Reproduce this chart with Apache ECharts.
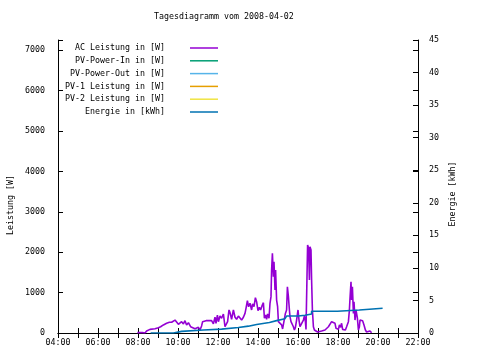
<!DOCTYPE html>
<html><head><meta charset="utf-8">
<script src="https://cdn.jsdelivr.net/npm/echarts@6/dist/echarts.min.js"></script>
<style>html,body{margin:0;padding:0;background:#fff}#c{width:480px;height:360px}</style>
</head><body><div id="c"></div>
<script>
const chartTitle = 'Tagesdiagramm vom 2008-04-02';
const seriesNames = ['AC Leistung in [W]', 'PV-Power-In in [W]', 'PV-Power-Out in [W]', 'PV-1 Leistung in [W]', 'PV-2 Leistung in [W]', 'Energie in [kWh]'];
const seriesColors = ['#9400d3', '#009e73', '#56b4e9', '#e69f00', '#f0e442', '#0072b2'];
const leftAxisName = 'Leistung [W]';
const rightAxisName = 'Energie [kWh]';

// time in decimal hours
const acTime = [
  7.97, 8.23, 8.35, 8.43, 8.52, 8.6, 8.85, 9.02, 9.13, 9.27,
  9.43, 9.57, 9.68, 9.73, 9.85, 9.93, 10.02, 10.07, 10.1, 10.18,
  10.27, 10.35, 10.43, 10.52, 10.63, 10.73, 10.85, 10.93, 11.02, 11.1,
  11.18, 11.23, 11.3, 11.4, 11.47, 11.57, 11.68, 11.77, 11.85, 11.9,
  11.97, 12.02, 12.1, 12.18, 12.27, 12.35, 12.43, 12.48, 12.55, 12.6,
  12.68, 12.77, 12.85, 12.93, 13.02, 13.1, 13.18, 13.27, 13.35, 13.4,
  13.47, 13.53, 13.6, 13.68, 13.73, 13.8, 13.87, 13.93, 14.0, 14.07,
  14.13, 14.2, 14.27, 14.32, 14.38, 14.43, 14.48, 14.55, 14.6, 14.65,
  14.68, 14.72, 14.77, 14.8, 14.85, 14.88, 14.93, 14.98, 15.02, 15.1,
  15.18, 15.23, 15.3, 15.37, 15.43, 15.47, 15.52, 15.57, 15.6, 15.65,
  15.7, 15.77, 15.82, 15.87, 15.93, 16.0, 16.05, 16.1, 16.15, 16.2,
  16.27, 16.32, 16.37, 16.4, 16.45, 16.48, 16.53, 16.57, 16.6, 16.65,
  16.68, 16.72, 16.77, 16.82, 16.9, 16.98, 17.07, 17.18, 17.27, 17.35,
  17.43, 17.52, 17.6, 17.68, 17.77, 17.85, 17.9, 17.97, 18.02, 18.07,
  18.13, 18.18, 18.23, 18.3, 18.37, 18.43, 18.52, 18.57, 18.6, 18.65,
  18.68, 18.72, 18.77, 18.8, 18.85, 18.9, 18.97, 19.02, 19.07, 19.1,
  19.17, 19.23, 19.3, 19.37, 19.43, 19.52, 19.6, 19.68
];
const acPower = [
  10, 10, 0, 50, 75, 90, 105, 130, 155, 200,
  240, 265, 265, 305, 320, 305, 215, 175, 240, 280,
  225, 305, 200, 255, 155, 155, 105, 90, 140, 75,
  175, 280, 240, 305, 345, 305, 305, 225, 390, 240,
  445, 280, 420, 365, 470, 155, 175, 280, 570, 505,
  340, 570, 390, 340, 420, 405, 320, 390, 485, 610,
  800, 650, 735, 570, 720, 650, 875, 775, 555, 635,
  570, 670, 750, 365, 445, 340, 470, 365, 735, 900,
  1560, 1970, 1395, 1765, 1065, 1560, 815, 650, 280, 305,
  200, 100, 90, 485, 570, 1145, 900, 570, 405, 280,
  305, 155, 75, 140, 320, 570, 320, 155, 200, 115,
  320, 420, 280, 90, 75, 2180, 2095, 1310, 2135, 2055,
  1310, 570, 155, 75, 90, 25, 25, 50, 75, 75,
  100, 155, 200, 280, 320, 240, 115, 155, 90, 200,
  140, 240, 90, 50, 75, 155, 280, 570, 860, 1270,
  815, 1145, 485, 775, 320, 570, 365, 75, 155, 320,
  340, 305, 200, 75, 25, 25, 50, 5
];
const energyTime = [8.63, 9.77, 10.18, 11.27, 12.18, 13.02, 13.52, 13.93, 14.57, 14.93, 15.35, 15.43, 16.02, 16.35, 16.68, 17.97, 19.07, 20.23];
const energyKWh = [0, 0.25, 0.45, 0.6, 0.85, 1.05, 1.3, 1.6, 1.9, 2.2, 2.4, 2.6, 2.72, 2.92, 3.33, 3.53, 3.79, 3.79];
const pvPowerIn = [];
const pvPowerOut = [];
const pv1Power = [];
const pv2Power = [];

const xMinHour = 4, xMaxHour = 22;
const leftMax = 7250, leftStep = 1000;
const rightMax = 45, rightStep = 5;

const FONT = '"DejaVu Sans Mono", monospace';
const FS = 8.3;
const zip = (a, b) => a.map((v, i) => [v, b[i]]);
const hourLabel = v => (v % 2 === 0 ? String(v).padStart(2, '0') + ':00' : '');

const chart = echarts.init(document.getElementById('c'), null, {renderer: 'canvas'});
const tickStyle = {inside: true, length: 5, lineStyle: {color: '#000', width: 1}};
const lineAxis = {show: true, lineStyle: {color: '#000', width: 1}};
const labelStyle = {color: '#000', fontFamily: FONT, fontSize: FS};

const option = {
  animation: false,
  backgroundColor: '#fff',
  title: {text: chartTitle, left: 154, top: 13, padding: 0,
    textStyle: {fontFamily: FONT, fontSize: FS, fontWeight: 'normal', color: '#000'}},
  legend: {
    orient: 'vertical', align: 'right', right: 262, top: 43, padding: 0,
    itemGap: 2.8, itemWidth: 28, itemHeight: 1.5, icon: 'rect',
    data: seriesNames,
    textStyle: {fontFamily: FONT, fontSize: FS, color: '#000', lineHeight: 10, padding: [0, 20, 0, 0]}
  },
  grid: {left: 58, right: 62, top: 40, bottom: 27, containLabel: false},
  xAxis: [
    {type: 'value', min: xMinHour, max: xMaxHour, interval: 1, position: 'bottom',
      axisLine: lineAxis, axisTick: tickStyle, splitLine: {show: false},
      axisLabel: Object.assign({margin: 6, formatter: hourLabel}, labelStyle)},
    {type: 'value', min: xMinHour, max: xMaxHour, interval: 1, position: 'top',
      axisLine: lineAxis, axisTick: tickStyle, splitLine: {show: false},
      axisLabel: {show: false}}
  ],
  yAxis: [
    {type: 'value', min: 0, max: leftMax, interval: leftStep, position: 'left',
      axisLine: lineAxis, axisTick: tickStyle, splitLine: {show: false},
      axisLabel: Object.assign({margin: 13, formatter: v => (v % leftStep === 0 ? String(v) : '')}, labelStyle)},
    {type: 'value', min: 0, max: rightMax, interval: rightStep, position: 'right',
      axisLine: lineAxis, axisTick: tickStyle, splitLine: {show: false},
      axisLabel: Object.assign({margin: 11}, labelStyle)},
    {type: 'value', min: 0, max: leftMax, interval: leftStep, position: 'right',
      axisLine: {show: false}, axisTick: tickStyle, splitLine: {show: false},
      axisLabel: {show: false}}
  ],
  series: [
    {name: seriesNames[0], type: 'line', data: zip(acTime, acPower), showSymbol: false,
      color: seriesColors[0], lineStyle: {width: 1.6, color: seriesColors[0]}},
    {name: seriesNames[1], type: 'line', data: pvPowerIn, showSymbol: false, color: seriesColors[1], lineStyle: {width: 1.6}},
    {name: seriesNames[2], type: 'line', data: pvPowerOut, showSymbol: false, color: seriesColors[2], lineStyle: {width: 1.6}},
    {name: seriesNames[3], type: 'line', data: pv1Power, showSymbol: false, color: seriesColors[3], lineStyle: {width: 1.6}},
    {name: seriesNames[4], type: 'line', data: pv2Power, showSymbol: false, color: seriesColors[4], lineStyle: {width: 1.6}},
    {name: seriesNames[5], type: 'line', yAxisIndex: 1, step: 'end', data: zip(energyTime, energyKWh), showSymbol: false,
      color: seriesColors[5], lineStyle: {width: 1.6, color: seriesColors[5]}}
  ],
  graphic: [
    {type: 'text', x: 11, y: 205, rotation: Math.PI / 2,
      style: {text: leftAxisName, fill: '#000', font: FS + 'px ' + FONT, align: 'center', verticalAlign: 'middle', textAlign: 'center', textVerticalAlign: 'middle'}},
    {type: 'text', x: 453, y: 194, rotation: Math.PI / 2,
      style: {text: rightAxisName, fill: '#000', font: FS + 'px ' + FONT, align: 'center', verticalAlign: 'middle', textAlign: 'center', textVerticalAlign: 'middle'}}
  ]
};
chart.setOption(option);
</script>
</body></html>
